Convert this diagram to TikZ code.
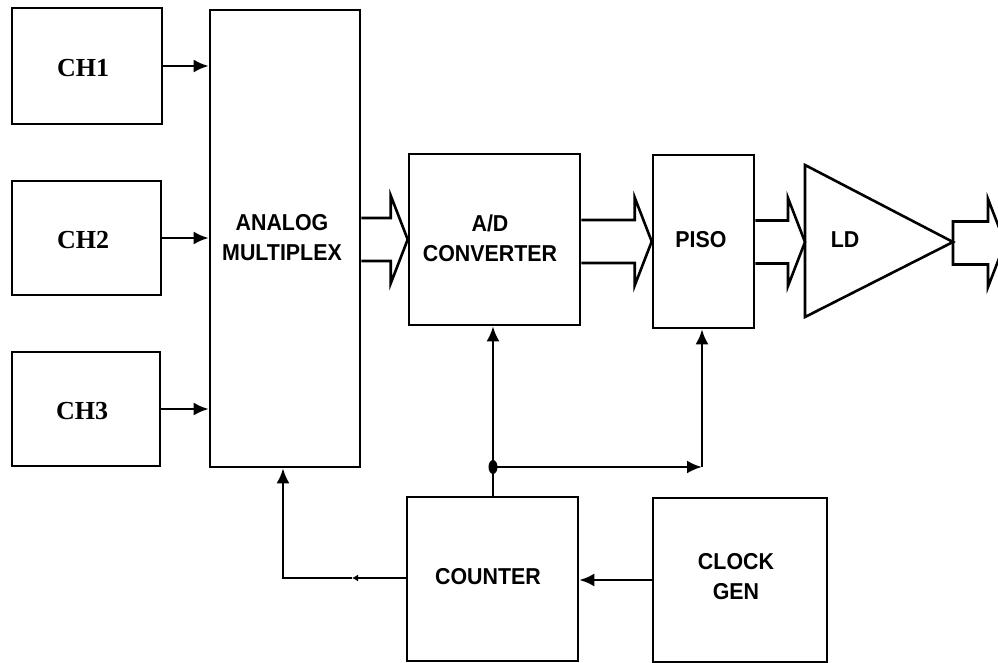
\documentclass[tikz,border=0pt]{standalone}
\usepackage{fontspec}
\setmainfont{Liberation Serif}
\newfontfamily\lblfont[FakeStretch=0.93]{Liberation Sans}
\usetikzlibrary{arrows.meta,calc}
\begin{document}
\begin{tikzpicture}[x=1pt,y=-1pt,
  blk/.style={draw, line width=2.6pt, inner sep=0pt, anchor=center},
  chtext/.style={font=\fontsize{26}{30}\selectfont\bfseries},
  lbl/.style={font=\lblfont\fontsize{23}{30}\selectfont\bfseries, align=center},
  conn/.style={line width=2.6pt},
  arr/.style={conn, -{Latex[length=15pt,width=13pt]}},
  tinyarr/.style={conn, -{Latex[length=6pt,width=7pt]}},
  hollow/.style={line width=2.6pt, line join=miter}]
\useasboundingbox (0,0) rectangle (998,663);

% blocks
\node[blk, minimum width=150pt, minimum height=116pt] (ch1) at (87,66) {};
\node[blk, minimum width=149pt, minimum height=114pt] (ch2) at (86.5,238) {};
\node[blk, minimum width=148pt, minimum height=114pt] (ch3) at (86,409) {};
\node[blk, minimum width=150pt, minimum height=457pt] (mux) at (285,238.5) {};
\node[blk, minimum width=171pt, minimum height=171pt] (ad) at (494.5,239.5) {};
\node[blk, minimum width=101pt, minimum height=173pt] (piso) at (703.5,241.5) {};
\node[blk, minimum width=171pt, minimum height=164pt] (counter) at (492.5,579) {};
\node[blk, minimum width=174pt, minimum height=164pt] (clock) at (740,580) {};

% LD triangle
\coordinate (ldtop) at (805,165);
\coordinate (ldbot) at (805,317);
\coordinate (ldtip) at (953,242);
\coordinate (ldin) at (805,242);
\draw[hollow] (ldtop) -- (ldtip) -- (ldbot) -- cycle;
\coordinate (out) at (1005,243);

% texts
\node[chtext] (t1) at (83,68) {CH1};
\node[chtext] (t2) at (83,240) {CH2};
\node[chtext] (t3) at (82,411) {CH3};
\node[lbl] (tmux) at (282,238) {ANALOG\\MULTIPLEX};
\node[lbl] (tad) at (490,238) {A/D\\CONVERTER};
\node[lbl] (tpiso) at (701,240) {PISO};
\node[lbl] (tld) at (845,240) {LD};
\node[lbl] (tcnt) at (488,577) {COUNTER};
\node[lbl] (tclk) at (736,577) {CLOCK\\GEN};

% channel arrows
\draw[arr] (ch1.east) -- (ch1.east -| mux.west);
\draw[arr] (ch2.east) -- (ch2.east -| mux.west);
\draw[arr] (ch3.east) -- (ch3.east -| mux.west);

% hollow bus arrows
\newcommand\hollowarrow[2]{%
  \draw[hollow] ($(#1 |- #2)+(0,-21.5)$) -- ($(#2)+(-17,-21.5)$) -- ($(#2)+(-17,-44)$)
    -- (#2) -- ($(#2)+(-17,44)$) -- ($(#2)+(-17,21.5)$) -- ($(#1 |- #2)+(0,21.5)$);}
\hollowarrow{mux.east}{ad.west}
\hollowarrow{ad.east}{piso.west}
\hollowarrow{piso.east}{ldin}
\draw[hollow] ($(ldtip |- out)+(0,-21.5)$) -- ($(out)+(-17,-21.5)$) -- ($(out)+(-17,-44)$)
    -- (out) -- ($(out)+(-17,44)$) -- ($(out)+(-17,21.5)$) -- ($(ldtip |- out)+(0,21.5)$) -- cycle;

% counter distribution
\coordinate (j) at (493,467);
\coordinate (corner) at (702,467);
\draw[conn] (counter.north -| j) -- (j);
\fill (j) ellipse (4.5pt and 7pt);
\draw[arr] (j) -- (j |- ad.south);
\draw[arr] (j) -- (corner);
\draw[arr] (corner) -- (corner |- piso.south);

% counter to mux
\coordinate (m) at (352,578);
\coordinate (cl) at (283,578);
\draw[tinyarr] (counter.west |- m) -- (m);
\draw[arr] (m) -- (cl) -- (cl |- mux.south);

% clock to counter
\draw[arr] (clock.west |- 0,580) -- (counter.east |- 0,580);
\end{tikzpicture}
\end{document}
